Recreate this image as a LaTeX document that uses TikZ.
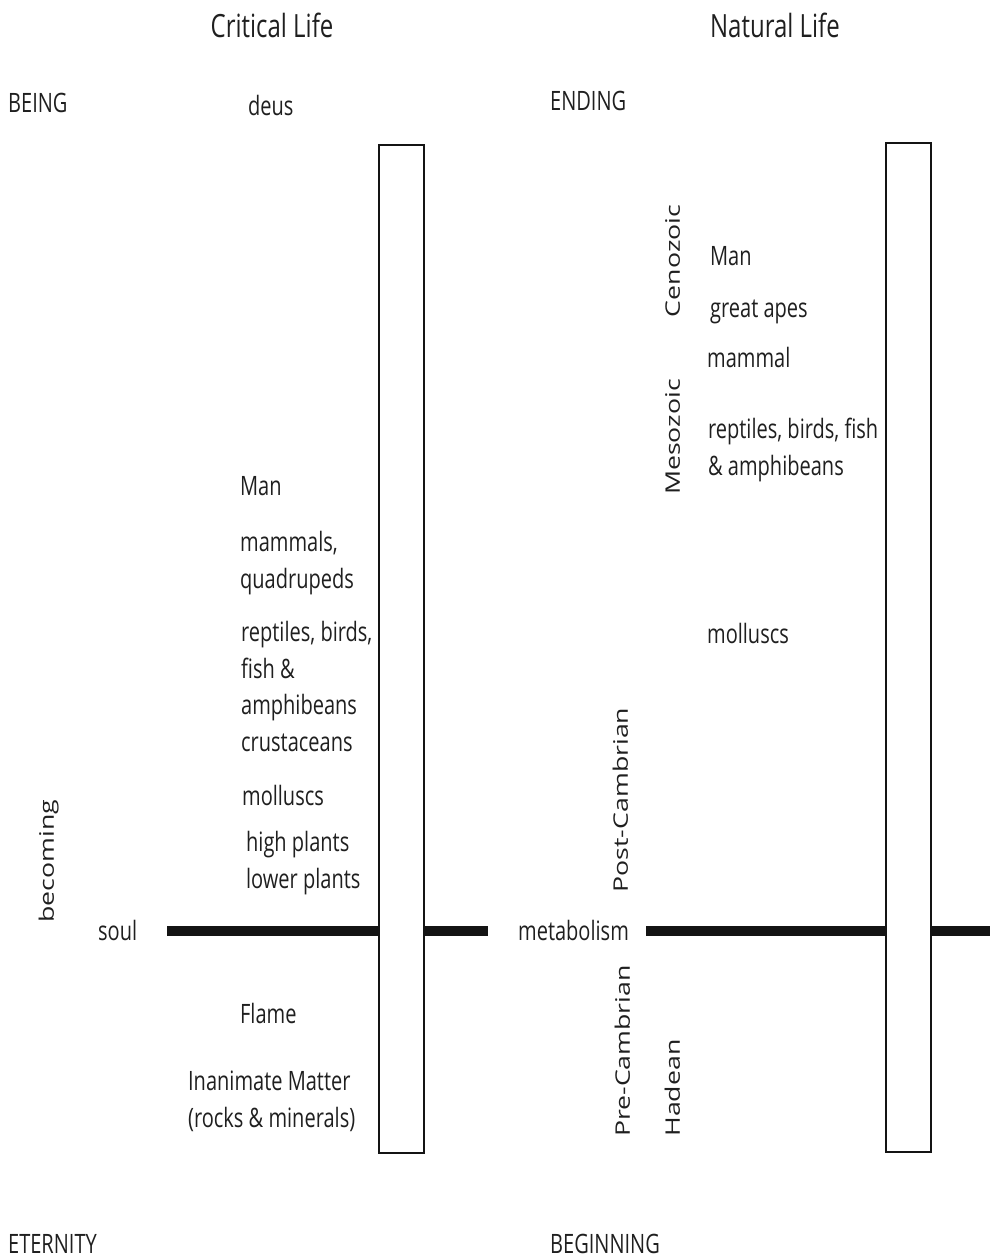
\documentclass[tikz,border=0pt]{standalone}
\usepackage{fontspec}
\setmainfont{Open Sans}

\begin{document}
\begin{tikzpicture}[x=1.3333pt, y=-1pt, xscale=0.75, transform shape]
	\tikzset{
		every node/.style={inner sep=0pt, align=left, text=black!88, font=\fontsize{26.7}{36.5}\selectfont},
		head/.style={anchor=base, font=\fontsize{32}{38}\selectfont},
		lbl/.style={anchor=base west},
		era/.style={anchor=base, rotate=90},
		bar/.style={line width=10pt, draw=black!92},
		column/.style={line width=2.8pt, draw=black!92, fill=white}
	}
	\useasboundingbox (0,0) rectangle (999,1258);

		\node[head] (critical) at (272,37) {Critical Life};
		\node[head] (natural) at (775,37) {Natural Life};
		\node[lbl] (being) at (8,112) {BEING};
		\node[lbl] (eternity) at (8,1253) {ETERNITY};
		\node[lbl] (ending) at (550,110) {ENDING};
		\node[lbl] (beginning) at (550,1253) {BEGINNING};

		\node[lbl] (deus) at (248,115) {deus};
		\node[lbl] (man) at (240,495) {Man};
		\node[lbl] (mammals) at (240,588) {mammals,\\quadrupeds};
		\node[lbl] (reptiles) at (241,751) {reptiles, birds,\\fish \&\\amphibeans\\crustaceans};
		\node[lbl] (molluscs) at (242,805) {molluscs};
		\node[lbl] (plants) at (246,888) {high plants\\lower plants};
		\node[lbl] (soul) at (98,940) {soul};
		\node[lbl] (flame) at (240,1023) {Flame};
		\node[lbl] (matter) at (188,1127) {Inanimate Matter\\(rocks \& minerals)};
		\node[era] (becoming) at (54,861) {becoming};

		\node[lbl] (man2) at (710,265) {Man};
		\node[lbl] (apes) at (710,317) {great apes};
		\node[lbl] (mammal) at (707,367) {mammal};
		\node[lbl] (reptiles2) at (708,475) {reptiles, birds, fish\\\& amphibeans};
		\node[lbl] (molluscs2) at (707,643) {molluscs};
		\node[lbl] (metabolism) at (518,940) {metabolism};
		\node[era] (cenozoic) at (680,261) {Cenozoic};
		\node[era] (mesozoic) at (680,437) {Mesozoic};
		\node[era] (postcamb) at (628,800) {Post-Cambrian};
		\node[era] (precamb) at (630,1051) {Pre-Cambrian};
		\node[era] (hadean) at (680,1088) {Hadean};

		\coordinate (soulstart) at (167,931);
		\coordinate (soulend) at (488,931);
		\coordinate (metastart) at (646,931);
		\coordinate (metaend) at (990,931);
		\draw[bar] (soulstart) -- (soulend);
		\draw[bar] (metastart) -- (metaend);

		\draw[column] (379,145) rectangle (424,1153);
		\draw[column] (886,143) rectangle (931,1152);
\end{tikzpicture}
\end{document}
